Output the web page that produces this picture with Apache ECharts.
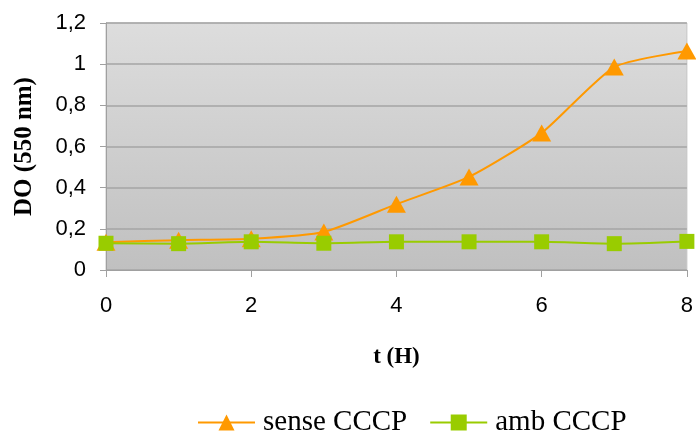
<!DOCTYPE html>
<html>
<head>
<meta charset="utf-8">
<script src="https://cdn.jsdelivr.net/npm/echarts@6/dist/echarts.min.js"></script>
<style>html,body{margin:0;padding:0;background:#fff}#c{width:696px;height:435px}</style>
</head>
<body>
<div id="c"></div>
<script>
var hours = [0, 1, 2, 3, 4, 5, 6, 7, 8];
var senseCCCP = [0.135, 0.145, 0.152, 0.185, 0.32, 0.452, 0.666, 0.986, 1.064];
var ambCCCP = [0.13, 0.128, 0.137, 0.13, 0.137, 0.137, 0.137, 0.128, 0.139];
var yTicks = [0, 0.2, 0.4, 0.6, 0.8, 1, 1.2];
var xTicks = [0, 2, 4, 6, 8];

function pairs(xs, ys) { return xs.map(function (x, i) { return [x, ys[i]]; }); }

var chart = echarts.init(document.getElementById('c'), null, {renderer: 'canvas'});
chart.setOption({
  animation: false,
  grid: {
    left: 106, right: 8, top: 23, bottom: 165,
    show: true,
    backgroundColor: {type: 'linear', x: 0, y: 0, x2: 0, y2: 1,
      colorStops: [{offset: 0, color: '#dddddd'}, {offset: 1, color: '#c0c0c0'}]},
    borderColor: '#c4c4c4', borderWidth: 1
  },
  xAxis: {
    type: 'value', min: xTicks[0], max: xTicks[xTicks.length - 1], interval: 2,
    name: 't (H)', nameLocation: 'middle', nameGap: 76,
    nameTextStyle: {fontFamily: 'Liberation Serif', fontWeight: 'bold', fontSize: 23, color: '#000'},
    axisLine: {show: true, lineStyle: {color: '#a0a0a0', width: 1}},
    axisTick: {show: true, length: 7, lineStyle: {color: '#a0a0a0'}},
    axisLabel: {fontFamily: 'Liberation Sans', fontSize: 22, color: '#000', margin: 25},
    splitLine: {show: false}
  },
  yAxis: {
    type: 'value', min: yTicks[0], max: yTicks[yTicks.length - 1], interval: 0.2,
    name: 'DO (550 nm)', nameLocation: 'middle', nameGap: 69, nameRotate: 90,
    nameTextStyle: {fontFamily: 'Liberation Serif', fontWeight: 'bold', fontSize: 25, color: '#000'},
    axisLine: {show: true, lineStyle: {color: '#a0a0a0', width: 1}},
    axisTick: {show: true, length: 6, lineStyle: {color: '#a0a0a0'}},
    axisLabel: {fontFamily: 'Liberation Sans', fontSize: 22, color: '#000', margin: 20,
      formatter: function (v) { return String(Math.round(v * 10) / 10).replace('.', ','); }},
    splitLine: {show: true, lineStyle: {color: '#a4a4a4', width: 1.5}}
  },
  legend: {
    top: 403, left: 192, itemWidth: 57, itemHeight: 20, itemGap: 22,
    textStyle: {fontFamily: 'Liberation Serif', fontSize: 29, color: '#000', padding: [0, 0, 0, 3]},
    data: ['sense CCCP', 'amb CCCP']
  },
  series: [
    {
      name: 'sense CCCP', type: 'line', smooth: 0.2,
      data: pairs(hours, senseCCCP),
      symbol: 'triangle', symbolSize: [19, 17],
      itemStyle: {color: '#ff9900'},
      lineStyle: {color: '#ff9900', width: 2}
    },
    {
      name: 'amb CCCP', type: 'line', smooth: 0.2,
      data: pairs(hours, ambCCCP),
      symbol: 'rect', symbolSize: 15,
      itemStyle: {color: '#99cc00'},
      lineStyle: {color: '#99cc00', width: 2}
    }
  ]
});
</script>
</body>
</html>
